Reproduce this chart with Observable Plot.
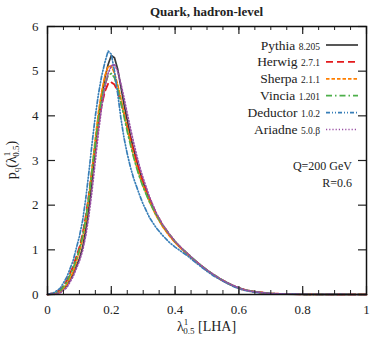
<!DOCTYPE html>
<html><head><meta charset="utf-8">
<script src="https://cdn.jsdelivr.net/npm/d3@7"></script>
<script src="https://cdn.jsdelivr.net/npm/@observablehq/plot@0.6"></script>
<style>body{margin:0;background:#fff}</style>
</head><body><div id="chart"></div>
<script>
// shared x grid (lambda^1_0.5)
const lambda = [0,0.02,0.04,0.06,0.08,0.10,0.11,0.12,0.13,0.14,0.15,0.16,0.17,0.18,0.19,0.20,0.21,0.22,0.23,0.24,0.25,0.26,0.27,0.28,0.29,0.30,0.32,0.34,0.36,0.38,0.40,0.42,0.44,0.46,0.48,0.50,0.52,0.54,0.56,0.58,0.60,0.62,0.65,0.70,0.75,0.80,0.90,1.0];
const pythia   = [0,0.01,0.05,0.2,0.45,0.8,1.05,1.45,1.95,2.6,3.3,3.95,4.45,4.85,5.15,5.35,5.3,5.05,4.65,4.25,3.9,3.55,3.25,2.98,2.72,2.5,2.12,1.8,1.55,1.35,1.17,1.03,0.9,0.77,0.65,0.54,0.44,0.35,0.27,0.2,0.14,0.1,0.06,0.02,0.01,0.005,0.001,0];
const herwig   = [0,0.03,0.1,0.3,0.62,1.05,1.35,1.75,2.25,2.8,3.35,3.85,4.25,4.55,4.72,4.75,4.7,4.55,4.3,4.05,3.75,3.48,3.2,2.97,2.73,2.52,2.15,1.82,1.56,1.36,1.18,1.03,0.9,0.77,0.65,0.54,0.44,0.35,0.27,0.2,0.14,0.1,0.06,0.02,0.01,0.005,0.001,0];
const sherpa   = [0,0.01,0.05,0.22,0.5,0.95,1.25,1.65,2.2,2.85,3.5,4.1,4.55,4.9,5.1,5.12,4.95,4.7,4.4,4.05,3.72,3.4,3.1,2.85,2.62,2.42,2.07,1.77,1.53,1.33,1.16,1.02,0.89,0.76,0.65,0.54,0.44,0.35,0.27,0.2,0.14,0.1,0.06,0.02,0.01,0.005,0.001,0];
const vincia   = [0,0.02,0.08,0.27,0.58,1.0,1.3,1.7,2.2,2.8,3.4,3.95,4.4,4.7,4.9,4.95,4.85,4.6,4.3,3.98,3.65,3.35,3.07,2.82,2.6,2.4,2.07,1.79,1.56,1.37,1.19,1.04,0.91,0.78,0.66,0.55,0.45,0.36,0.28,0.21,0.15,0.1,0.06,0.02,0.01,0.005,0.001,0];
const deductor = [0,0.04,0.14,0.38,0.75,1.3,1.65,2.15,2.75,3.4,4.0,4.5,4.9,5.2,5.45,5.38,5.0,4.5,3.95,3.5,3.15,2.85,2.6,2.4,2.2,2.02,1.72,1.5,1.33,1.18,1.06,0.96,0.86,0.74,0.63,0.52,0.42,0.34,0.26,0.19,0.13,0.09,0.05,0.02,0.01,0.005,0.001,0];
const ariadne  = [0,0.01,0.04,0.15,0.4,0.75,0.98,1.32,1.78,2.35,3.0,3.65,4.2,4.65,4.95,5.12,5.15,5.0,4.72,4.4,4.05,3.72,3.4,3.1,2.83,2.6,2.18,1.84,1.58,1.37,1.19,1.04,0.91,0.78,0.66,0.55,0.45,0.36,0.28,0.21,0.15,0.1,0.06,0.02,0.01,0.005,0.001,0];

const names    = ["Pythia","Herwig","Sherpa","Vincia","Deductor","Ariadne"];
const versions = ["8.205","2.7.1","2.1.1","1.201","1.0.2","5.0.\u03b2"];
const xTicks = [0,0.2,0.4,0.6,0.8,1];
const xMinor = d3.range(0,1.0001,0.05).map(v=>+v.toFixed(2));
const yTicks = [0,1,2,3,4,5,6];

const values = [pythia, herwig, sherpa, vincia, deductor, ariadne];
const colors = ["#3a3a3a","#e41a1c","#ff7f00","#4daf4a","#377eb8","#984ea3"];
const dashes = [null,"7,4","3.5,2","6,3,1.5,3","4,2,1,2,1,2","1.2,2"];
const widths = [1.7,1.9,1.7,1.7,1.7,1.7];

const rows = names.flatMap((n,i)=>lambda.map((x,j)=>({s:n,x,y:values[i][j]})));

const W=372,H=337, mL=47,mR=6,mT=26,mB=43;
const innerH = H-mT-mB;
const font = "'Liberation Serif', 'DejaVu Serif', serif";

const plot = Plot.plot({
  width: W, height: H,
  marginLeft: mL, marginRight: mR, marginTop: mT, marginBottom: mB,
  style: {fontFamily: font, fontSize: "13px", background: "white", color: "#222"},
  x: {domain:[0,1]},
  y: {domain:[0,6]},
  marks: [
    ...names.map((n,i)=>Plot.line(rows.filter(r=>r.s===n), {x:"x", y:"y", stroke: colors[i], strokeWidth: widths[i], strokeDasharray: dashes[i], strokeLinejoin:"round"})),
    // minor ticks inward bottom & top
    Plot.ruleX(xMinor, {x:d=>d, insetTop: innerH-4, stroke:"#222", strokeWidth:1}),
    Plot.ruleX(xMinor, {x:d=>d, insetBottom: innerH-4, stroke:"#222", strokeWidth:1}),
    Plot.ruleX(xTicks, {x:d=>d, insetTop: innerH-8, stroke:"#222", strokeWidth:1.2}),
    Plot.ruleX(xTicks, {x:d=>d, insetBottom: innerH-8, stroke:"#222", strokeWidth:1.2}),
    Plot.ruleY(yTicks, {y:d=>d, insetRight: (W-mL-mR)-8, stroke:"#222", strokeWidth:1.2}),
    Plot.ruleY(yTicks, {y:d=>d, insetLeft: (W-mL-mR)-8, stroke:"#222", strokeWidth:1.2}),
    Plot.axisX(xTicks, {tickSize:0, tickPadding:10, tickFormat: d3.format("~g"), label:null, fontSize:13}),
    Plot.axisY(yTicks, {tickSize:0, tickPadding:9, label:null, fontSize:13}),
    Plot.frame({stroke:"#111", strokeWidth:1.5})
  ]
});

const svg = d3.select(plot);
const xs = plot.scale("x"), ys = plot.scale("y");
const cx = (xs.apply(0)+xs.apply(1))/2;

// title
svg.append("text").attr("x",cx).attr("y",16).attr("text-anchor","middle")
  .attr("font-family",font).attr("font-weight","bold").attr("font-size",13).attr("fill","#222")
  .text("Quark, hadron-level");

// x label
const xl = svg.append("text").attr("x",cx).attr("y",331).attr("text-anchor","middle")
  .attr("font-family",font).attr("font-size",14).attr("fill","#222");
xl.append("tspan").text("\u03bb");
xl.append("tspan").attr("font-size",9).attr("dy",-6).text("1");
xl.append("tspan").attr("font-size",9).attr("dx",-5).attr("dy",9).text("0.5");
xl.append("tspan").attr("dy",-3).text(" [LHA]");

// y label
const yl = svg.append("text").attr("transform",`translate(16,${(ys.apply(0)+ys.apply(6))/2}) rotate(-90)`)
  .attr("text-anchor","middle").attr("font-family",font).attr("font-size",14).attr("fill","#222");
yl.append("tspan").text("p");
yl.append("tspan").attr("font-size",9).attr("dy",3).text("q");
yl.append("tspan").attr("dy",-3).text("(\u03bb");
yl.append("tspan").attr("font-size",9).attr("dy",-6).text("1");
yl.append("tspan").attr("font-size",9).attr("dx",-5).attr("dy",9).text("0.5");
yl.append("tspan").attr("dy",-3).text(")");

// legend
const lg = svg.append("g");
names.forEach((n,i)=>{
  const y = 45 + i*16.9;
  const t = lg.append("text").attr("x",320).attr("y",y+4.5).attr("text-anchor","end")
    .attr("font-family",font).attr("font-size",13.5).attr("fill","#222");
  t.append("tspan").text(n+" ");
  t.append("tspan").attr("font-size",9.5).text(versions[i]);
  lg.append("line").attr("x1",326).attr("x2",358).attr("y1",y).attr("y2",y)
    .attr("stroke",colors[i]).attr("stroke-width",widths[i]).attr("stroke-dasharray",dashes[i]);
});

// annotations
svg.append("text").attr("x",352).attr("y",170).attr("text-anchor","end")
  .attr("font-family",font).attr("font-size",12).attr("fill","#222").text("Q=200 GeV");
svg.append("text").attr("x",352).attr("y",187).attr("text-anchor","end")
  .attr("font-family",font).attr("font-size",12).attr("fill","#222").text("R=0.6");

document.getElementById("chart").appendChild(plot);
</script>
</body></html>
